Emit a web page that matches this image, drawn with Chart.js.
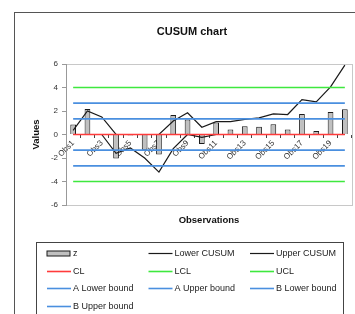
<!DOCTYPE html>
<html>
<head>
<meta charset="utf-8">
<script src="https://cdn.jsdelivr.net/npm/chart.js@4"></script>
<style>
  html, body { margin: 0; padding: 0; background: #fff; }
  #wrap { position: relative; width: 355px; height: 314px; overflow: hidden; }
  canvas { position: absolute; left: 0; top: 0; }
</style>
</head>
<body>
<div id="wrap"><canvas id="chart" width="355" height="314"></canvas></div>
<script>
// --- Data ---
const observations = ['Obs1', 'Obs2', 'Obs3', 'Obs4', 'Obs5', 'Obs6', 'Obs7', 'Obs8', 'Obs9', 'Obs10',
  'Obs11', 'Obs12', 'Obs13', 'Obs14', 'Obs15', 'Obs16', 'Obs17', 'Obs18', 'Obs19', 'Obs20'];

const zValues = [0.85, 2.18, 0.02, -2.05, -0.08, -1.3, -1.7, 1.65, 1.28, -0.8,
  1.02, 0.42, 0.7, 0.65, 0.87, 0.43, 1.75, 0.3, 1.92, 2.15];

const lowerCusum = [0, 0, 0, -1.6, -1.15, -2.0, -3.2, -1.2, 0, -0.25,
  0, 0, 0, 0, 0, 0, 0, 0, 0, 0];

const upperCusum = [0.35, 2.0, 1.5, 0, 0, 0, 0, 1.15, 1.85, 0.62,
  1.1, 1.1, 1.28, 1.42, 1.75, 1.7, 2.97, 2.78, 4.05, 5.9];

const cl = [0, 0, 0, 0, 0, 0, 0, 0, 0, 0, 0, 0, 0, 0, 0, 0, 0, 0, 0, 0];
const lcl = [-4, -4, -4, -4, -4, -4, -4, -4, -4, -4, -4, -4, -4, -4, -4, -4, -4, -4, -4, -4];
const ucl = [4, 4, 4, 4, 4, 4, 4, 4, 4, 4, 4, 4, 4, 4, 4, 4, 4, 4, 4, 4];
const aLower = [-1.333, -1.333, -1.333, -1.333, -1.333, -1.333, -1.333, -1.333, -1.333, -1.333,
  -1.333, -1.333, -1.333, -1.333, -1.333, -1.333, -1.333, -1.333, -1.333, -1.333];
const aUpper = [1.333, 1.333, 1.333, 1.333, 1.333, 1.333, 1.333, 1.333, 1.333, 1.333,
  1.333, 1.333, 1.333, 1.333, 1.333, 1.333, 1.333, 1.333, 1.333, 1.333];
const bLower = [-2.667, -2.667, -2.667, -2.667, -2.667, -2.667, -2.667, -2.667, -2.667, -2.667,
  -2.667, -2.667, -2.667, -2.667, -2.667, -2.667, -2.667, -2.667, -2.667, -2.667];
const bUpper = [2.667, 2.667, 2.667, 2.667, 2.667, 2.667, 2.667, 2.667, 2.667, 2.667,
  2.667, 2.667, 2.667, 2.667, 2.667, 2.667, 2.667, 2.667, 2.667, 2.667];

const yTicks = [-6, -4, -2, 0, 2, 4, 6];

// --- Styles ---
const FONT = 'Arial, "Liberation Sans", sans-serif';
const BLACK = '#1a1a1a';
const RED = '#ff3b3b';
const GREEN = '#3ee83e';
const BLUE = '#4a8fdf';

const line = (label, data, color, width, order) => ({
  type: 'line', label, data, order,
  borderColor: color, backgroundColor: color, borderWidth: width,
  pointRadius: 0, tension: 0, fill: false
});

const datasets = [
  {
    type: 'bar', label: 'z', data: zValues, order: 20,
    backgroundColor: '#c0c0c0', borderColor: BLACK, borderWidth: 1,
    barPercentage: 0.8, categoryPercentage: 0.5
  },
  line('Lower CUSUM', lowerCusum, BLACK, 1.2, 19),
  line('Upper CUSUM', upperCusum, BLACK, 1.2, 18),
  line('CL', cl, RED, 1.6, 17),
  line('LCL', lcl, GREEN, 1.6, 16),
  line('UCL', ucl, GREEN, 1.6, 15),
  line('A Lower bound', aLower, BLUE, 1.6, 14),
  line('A Upper bound', aUpper, BLUE, 1.6, 13),
  line('B Lower bound', bLower, BLUE, 1.6, 12),
  line('B Upper bound', bUpper, BLUE, 1.6, 11)
];

// --- Plugins: frame, plot border, legend box ---
const framePlugin = {
  id: 'frame',
  beforeDraw(chart) {
    const ctx = chart.ctx;
    ctx.save();
    ctx.fillStyle = '#fff';
    ctx.fillRect(0, 0, chart.width, chart.height);
    ctx.strokeStyle = '#555';
    ctx.lineWidth = 1;
    ctx.strokeRect(14.5, 12.5, 400, 400);
    const a = chart.chartArea;
    ctx.strokeStyle = '#c8c8c8';
    ctx.strokeRect(a.left + 0.5, a.top + 0.5, a.right - a.left, a.bottom - a.top);
    ctx.restore();
  },
  afterDraw(chart) {
    const ctx = chart.ctx;
    ctx.save();
    ctx.strokeStyle = '#444';
    ctx.lineWidth = 1;
    ctx.strokeRect(36.5, 242.5, 307, 90);
    const cols = [47, 148.5, 250];
    ctx.font = '9px ' + FONT;
    ctx.textBaseline = 'middle';
    ctx.fillStyle = '#222';
    chart.data.datasets.forEach((ds, i) => {
      const x = cols[i % 3];
      const y = Math.round(252.7 + Math.floor(i / 3) * 17.8) + 0.5;
      if (ds.type === 'bar') {
        ctx.fillStyle = ds.backgroundColor;
        ctx.strokeStyle = BLACK;
        ctx.fillRect(x, y - 2.5, 23, 5);
        ctx.strokeRect(x, y - 2.5, 23, 5);
      } else {
        ctx.strokeStyle = ds.borderColor;
        ctx.lineWidth = ds.borderWidth;
        ctx.beginPath();
        ctx.moveTo(x, y);
        ctx.lineTo(x + 24, y);
        ctx.stroke();
        ctx.lineWidth = 1;
      }
      ctx.fillStyle = '#222';
      ctx.fillText(ds.label, x + 26, y);
    });
    ctx.restore();
  }
};

// --- Chart ---
new Chart(document.getElementById('chart'), {
  type: 'bar',
  data: { labels: observations, datasets },
  plugins: [framePlugin],
  options: {
    responsive: false,
    animation: false,
    layout: { padding: { top: 0, left: 32, right: 3, bottom: 0 } },
    plugins: {
      legend: { display: false },
      tooltip: { enabled: false },
      title: {
        display: true,
        text: 'CUSUM chart',
        color: '#111',
        font: { family: FONT, size: 11, weight: 'bold', lineHeight: 1.2 },
        padding: { top: 25.7, bottom: 25.1 }
      }
    },
    scales: {
      x: {
        type: 'category',
        offset: true,
        position: 'bottom',
        grid: { display: false },
        border: { display: false },
        ticks: { display: false },
        title: {
          display: true,
          text: 'Observations',
          color: '#111',
          font: { family: FONT, size: 9.5, weight: 'bold', lineHeight: 1.2 },
          padding: { top: 0, bottom: 87.6 }
        },
        afterFit: (s) => { s.height = 109; }
      },
      x2: {
        type: 'category',
        labels: observations,
        offset: true,
        position: { y: 0 },
        grid: { drawOnChartArea: false, offset: true, tickLength: 3, color: '#444' },
        border: { display: false },
        ticks: {
          autoSkip: false,
          maxRotation: 45,
          minRotation: 45,
          padding: 1,
          color: '#333',
          font: { family: FONT, size: 8 },
          callback: (v, i) => (i % 2 === 0 ? observations[i] : '')
        }
      },
      y: {
        min: yTicks[0],
        max: yTicks[yTicks.length - 1],
        afterBuildTicks: (s) => { s.ticks = yTicks.map(v => ({ value: v })); },
        grid: { drawOnChartArea: false, tickLength: 4, color: '#999' },
        border: { display: true, color: '#999' },
        ticks: { padding: 4, color: '#333', font: { family: FONT, size: 8 } },
        title: {
          display: true,
          text: 'Values',
          color: '#111',
          font: { family: FONT, size: 9.5, weight: 'bold', lineHeight: 1 },
          padding: { top: 0, bottom: 0 }
        },
        afterFit: (s) => { s.width = 34; }
      }
    }
  }
});
</script>
</body>
</html>
